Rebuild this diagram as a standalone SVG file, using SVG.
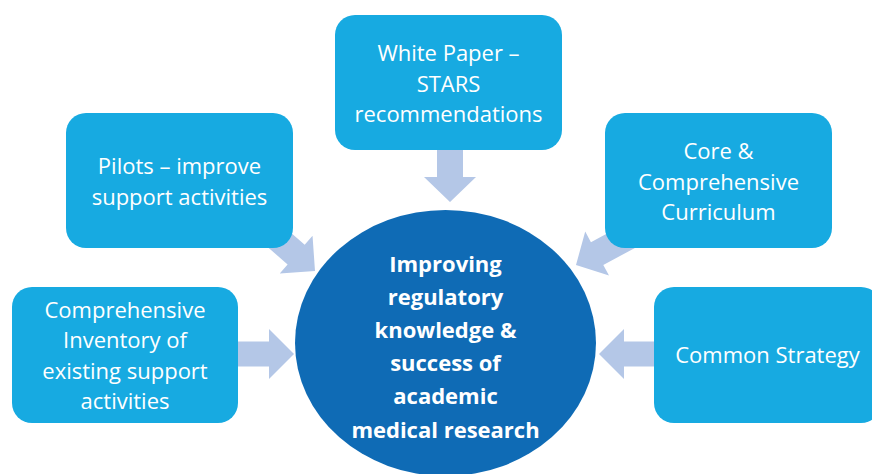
<svg xmlns="http://www.w3.org/2000/svg" width="872" height="474" viewBox="0 0 872 474">
<defs>
<style>
.box{fill:#17AAE1;}
.hub{fill:#0F6BB5;}
.arr{fill:#B4C7E7;}
.t{font-family:"Open Sans","Noto Sans",sans-serif;font-size:22px;fill:#FFFFFF;text-anchor:middle;}
.tb{font-family:"Open Sans","Noto Sans",sans-serif;font-size:22px;font-weight:700;fill:#FFFFFF;text-anchor:middle;}
</style>
</defs>
<rect width="872" height="474" fill="#FFFFFF"/>
<g id="connectors">
<polygon class="arr" transform="translate(450,202) rotate(90)" points="-52,-13 -25,-13 -25,-26 0,0 -25,26 -25,13 -52,13"/>
<polygon class="arr" transform="translate(315,271) rotate(41)" points="-55,-13 -25,-13 -25,-25 0,0 -25,25 -25,13 -55,13"/>
<polygon class="arr" transform="translate(576,265) rotate(151.6)" points="-70,-13 -24,-13 -24,-25 0,0 -24,25 -24,13 -70,13"/>
<polygon class="arr" transform="translate(294,354)" points="-57,-12.5 -25,-12.5 -25,-25 0,0 -25,25 -25,12.5 -57,12.5"/>
<polygon class="arr" transform="translate(599,354) rotate(180)" points="-56,-12.5 -25,-12.5 -25,-25 0,0 -25,25 -25,12.5 -56,12.5"/>
</g>
<g id="hub">
<ellipse class="hub" cx="445.5" cy="343" rx="150.5" ry="133"/>
<text class="tb" x="445.5" y="271.5">Improving</text>
<text class="tb" x="445.5" y="304.7">regulatory</text>
<text class="tb" x="445.5" y="337.9">knowledge &amp;</text>
<text class="tb" x="445.5" y="371.1">success of</text>
<text class="tb" x="445.5" y="404.3">academic</text>
<text class="tb" x="445.5" y="437.5">medical research</text>
</g>
<g id="white-paper">
<rect class="box" x="335" y="15" width="227" height="135" rx="20"/>
<text class="t" x="448.5" y="61">White Paper –</text>
<text class="t" x="448.5" y="91.5">STARS</text>
<text class="t" x="448.5" y="122">recommendations</text>
</g>
<g id="pilots">
<rect class="box" x="66" y="113" width="227" height="135" rx="20"/>
<text class="t" x="179.5" y="174">Pilots – improve</text>
<text class="t" x="179.5" y="205">support activities</text>
</g>
<g id="core">
<rect class="box" x="605" y="113" width="227" height="135" rx="20"/>
<text class="t" x="718.5" y="159">Core &amp;</text>
<text class="t" x="718.5" y="189.5">Comprehensive</text>
<text class="t" x="718.5" y="220">Curriculum</text>
</g>
<g id="inventory">
<rect class="box" x="12" y="287" width="226" height="136" rx="20"/>
<text class="t" x="125" y="318">Comprehensive</text>
<text class="t" x="125" y="348">Inventory of</text>
<text class="t" x="125" y="378.5">existing support</text>
<text class="t" x="125" y="409">activities</text>
</g>
<g id="common-strategy">
<rect class="box" x="654" y="287" width="227" height="136" rx="20"/>
<text class="t" x="767.5" y="363">Common Strategy</text>
</g>
</svg>
